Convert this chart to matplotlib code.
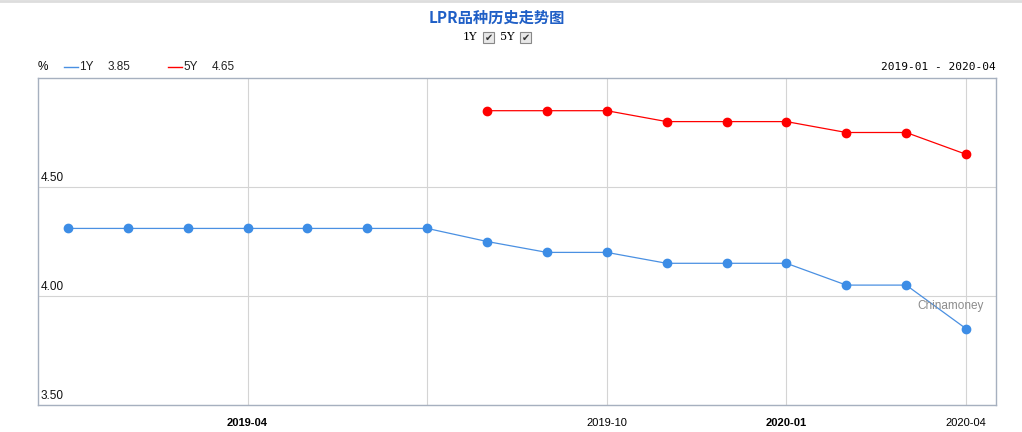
import matplotlib
matplotlib.use('Agg')
import matplotlib.pyplot as plt
from matplotlib.patches import Rectangle
from matplotlib.lines import Line2D

months = ['2019-01', '2019-02', '2019-03', '2019-04', '2019-05', '2019-06',
          '2019-07', '2019-08', '2019-09', '2019-10', '2019-11', '2019-12',
          '2020-01', '2020-02', '2020-03', '2020-04']
lpr_1y = [4.31, 4.31, 4.31, 4.31, 4.31, 4.31, 4.31, 4.25, 4.20, 4.20,
          4.15, 4.15, 4.15, 4.05, 4.05, 3.85]
lpr_5y = [None] * 7 + [4.85, 4.85, 4.85, 4.80, 4.80, 4.80, 4.75, 4.75, 4.65]
tick_months = ['2019-04', '2019-07', '2019-10', '2020-01', '2020-04']
tick_labels = ['2019-04', '', '2019-10', '2020-01', '2020-04']
bold_ticks = ['2019-04', '2020-01']

blue = '#4a90e2'
red = '#ff0000'

plt.rcParams['font.family'] = ['Liberation Sans', 'DejaVu Sans']

fig = plt.figure(figsize=(10.22, 4.32), dpi=100)
ax = fig.add_axes([38/1022, 27/432, 958/1022, 327/432])

x = list(range(len(months)))
ax.plot(x, lpr_1y, '-o', color=blue, lw=0.9, ms=6, mfc='#3d8de6', mec='#3d8de6')
x5 = [i for i, v in enumerate(lpr_5y) if v is not None]
y5 = [v for v in lpr_5y if v is not None]
ax.plot(x5, y5, '-o', color=red, lw=0.9, ms=6)

ax.set_xlim(-0.5, len(months) - 0.5)
ax.set_ylim(3.5, 5.0)
ax.set_yticks([3.5, 4.0, 4.5])
ax.set_yticklabels([])
ax.tick_params(axis='y', length=0)
for v in [3.5, 4.0, 4.5]:
    ax.text(-0.45, v + 0.012, '%.2f' % v, fontsize=8.5, va='bottom', ha='left', color='#111111')

tpos = [months.index(m) for m in tick_months]
ax.set_xticks(tpos)
ax.set_xticklabels(tick_labels, fontsize=8)
for lbl, m in zip(ax.get_xticklabels(), tick_months):
    if m in bold_ticks:
        lbl.set_fontweight('bold')
ax.tick_params(axis='x', length=0, pad=9)

ax.grid(True, color='#d4d4d4', lw=0.8)
ax.set_axisbelow(True)
for s in ax.spines.values():
    s.set_color('#a6b0bf')
    s.set_linewidth(1)

fig.text(984/1022, 1 - 306/432, 'Chinamoney', ha='right', va='center',
         fontsize=8.5, color='#8c8c8c')

# title and checkboxes
fig.add_artist(Line2D([0, 1], [1 - 1/432, 1 - 1/432], color='#dddddd', lw=2))
fig.text(497/1022, 1 - 18/432, 'LPR品种历史走势图', ha='center', va='center',
         fontsize=11, fontweight='bold', color='#1f5fc6',
         family=['Noto Sans CJK SC', 'DejaVu Sans'])
for lab, xl in [('1Y', 463), ('5Y', 500)]:
    fig.text(xl/1022, 1 - 37/432, lab, ha='left', va='center', fontsize=8,
             family='DejaVu Serif')
    bx = xl + 20
    fig.add_artist(Rectangle((bx/1022, 1 - 43/432), 11/1022, 11/432,
                             facecolor='#e8e8e8', edgecolor='#888888', lw=0.8))
    fig.text((bx + 5.5)/1022, 1 - 37.5/432, '✔', ha='center', va='center',
             fontsize=7, color='#333333', family='DejaVu Sans')

# legend line
ly = 1 - 67/432
fig.text(38/1022, ly, '%', ha='left', va='center', fontsize=8.5)
fig.add_artist(Line2D([64/1022, 78/1022], [ly, ly], color=blue, lw=1))
fig.text(79/1022, ly, '1Y', ha='left', va='center', fontsize=8.5, color='#222222')
fig.text(108/1022, ly, '3.85', ha='left', va='center', fontsize=8.5, color='#222222')
fig.add_artist(Line2D([168/1022, 182/1022], [ly, ly], color=red, lw=1))
fig.text(183/1022, ly, '5Y', ha='left', va='center', fontsize=8.5, color='#222222')
fig.text(212/1022, ly, '4.65', ha='left', va='center', fontsize=8.5, color='#222222')
fig.text(996/1022, ly, '%s - %s' % (months[0], months[-1]), ha='right', va='center',
         fontsize=8, family='DejaVu Sans Mono')

fig.savefig('out.png', dpi=100)
